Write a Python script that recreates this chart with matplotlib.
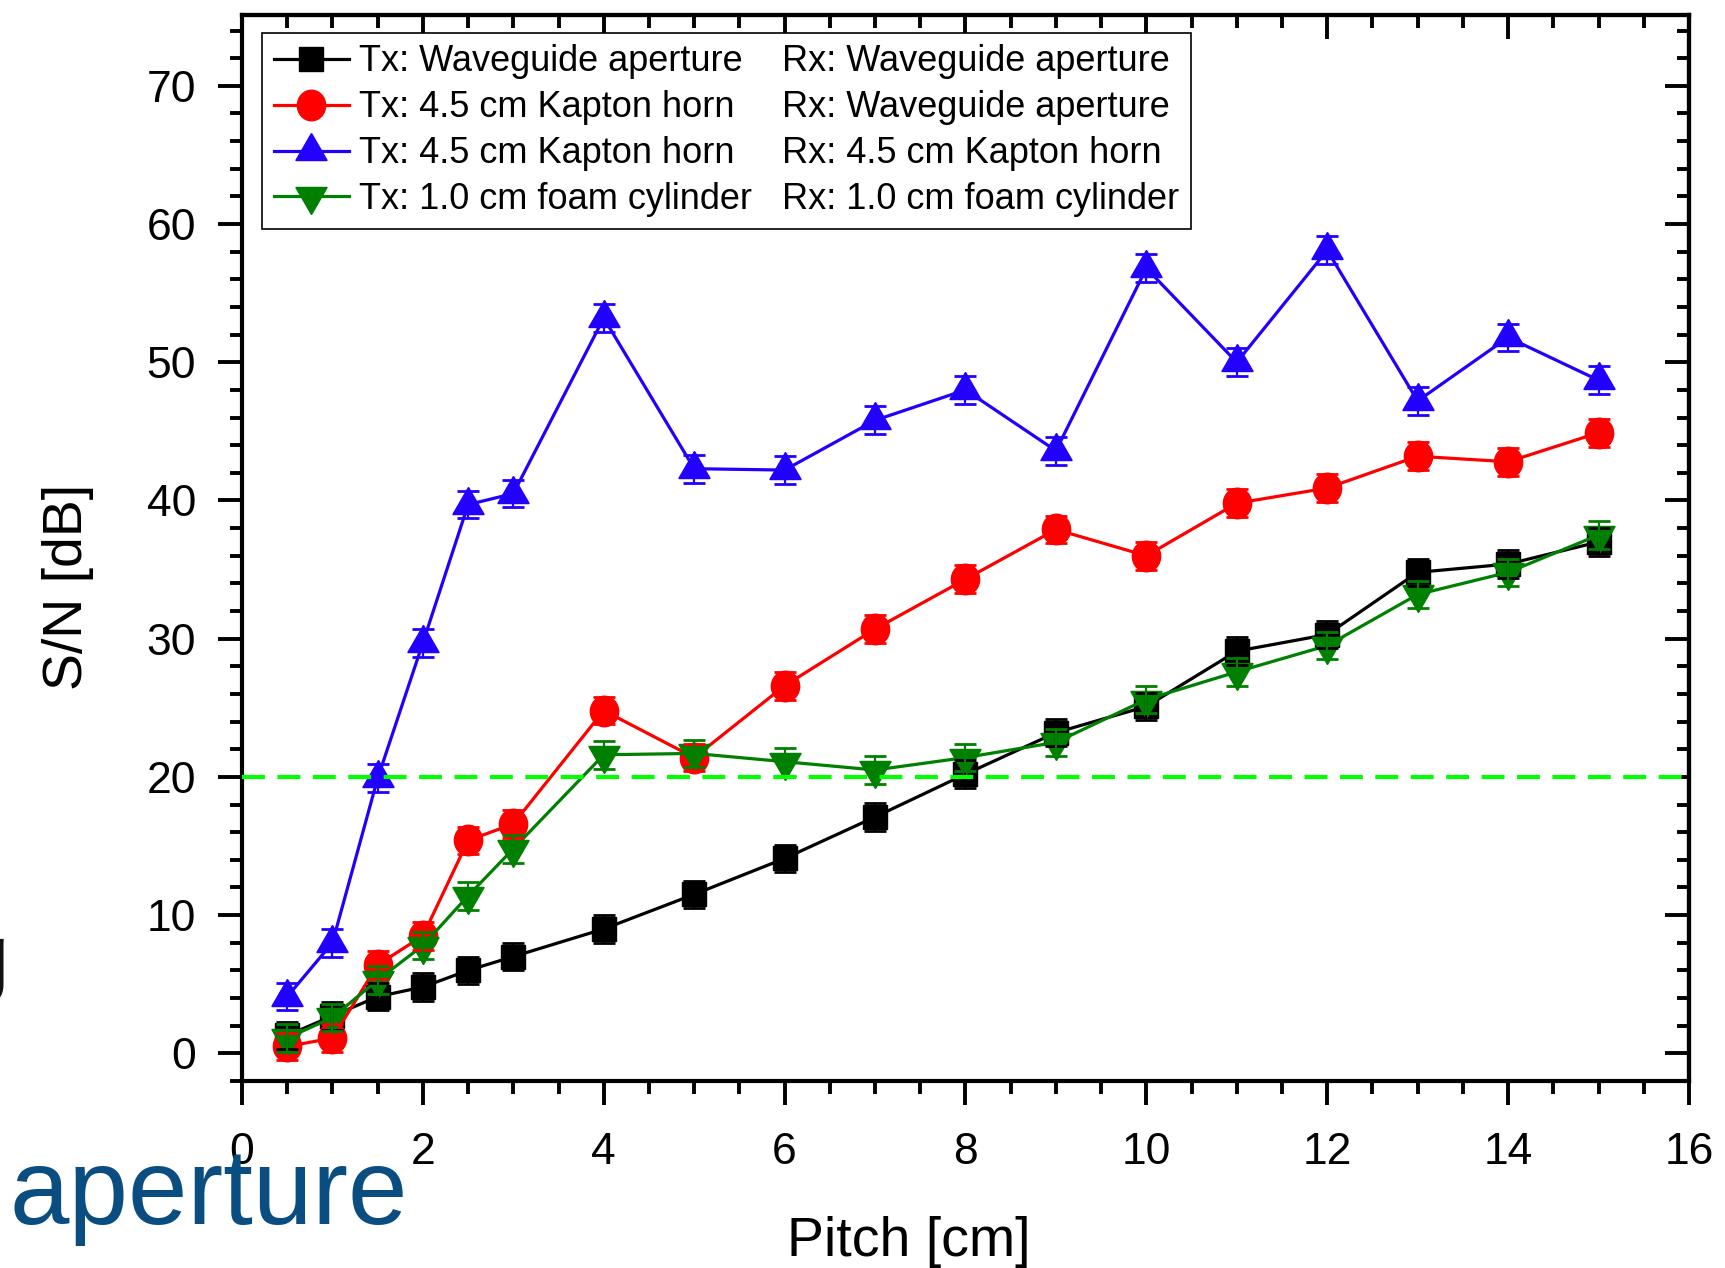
import matplotlib
matplotlib.use("Agg")
import matplotlib.pyplot as plt
from matplotlib.lines import Line2D
from matplotlib.path import Path
from matplotlib.ticker import MultipleLocator
import numpy as np

plt.rcParams['font.family'] = ['Liberation Sans', 'DejaVu Sans']

# ---- data -------------------------------------------------------------
pitch = [0.5, 1, 1.5, 2, 2.5, 3, 4, 5, 6, 7, 8, 9, 10, 11, 12, 13, 14, 15]

sn_wg_wg = [1.3, 2.7, 4.1, 4.8, 6.0, 7.0, 9.0, 11.5, 14.1, 17.1, 20.2, 23.2,
            25.1, 29.1, 30.3, 34.8, 35.4, 37.0]
sn_horn_wg = [0.5, 1.1, 6.4, 8.5, 15.4, 16.6, 24.8, 21.4, 26.6, 30.7, 34.3,
              37.9, 36.0, 39.8, 40.9, 43.2, 42.8, 44.9]
sn_horn_horn = [4.1, 8.0, 19.9, 29.7, 39.7, 40.5, 53.2, 42.3, 42.2, 45.8,
                48.0, 43.6, 56.8, 50.0, 58.1, 47.2, 51.8, 48.7]
sn_foam_foam = [1.1, 2.6, 5.3, 7.8, 11.4, 14.8, 21.6, 21.7, 21.1, 20.5, 21.4,
                22.5, 25.6, 27.6, 29.5, 33.2, 34.8, 37.5]

err_wg_wg = [1.0] * 18
err_horn_wg = [1.0] * 18
err_horn_horn = [1.0] * 18
err_foam_foam = [1.0] * 18

tx_labels = ["Tx: Waveguide aperture", "Tx: 4.5 cm Kapton horn",
             "Tx: 4.5 cm Kapton horn", "Tx: 1.0 cm foam cylinder"]
rx_labels = ["Rx: Waveguide aperture", "Rx: Waveguide aperture",
             "Rx: 4.5 cm Kapton horn", "Rx: 1.0 cm foam cylinder"]

threshold_db = 20

x_ticks = [0, 2, 4, 6, 8, 10, 12, 14, 16]
y_ticks = [0, 10, 20, 30, 40, 50, 60, 70]

# ---- styling ----------------------------------------------------------
ellipse = Path(Path.unit_circle().vertices * np.array([1.0, 1.08]),
               Path.unit_circle().codes)
tri_up = (3, 0, 0)
tri_down = (3, 0, 180)

series = [
    (sn_wg_wg, err_wg_wg, '#000000', 's', 17),
    (sn_horn_wg, err_horn_wg, '#ff0000', ellipse, 22),
    (sn_horn_horn, err_horn_horn, '#2200ff', tri_up, 26),
    (sn_foam_foam, err_foam_foam, '#008000', tri_down, 26),
]

fig = plt.figure(figsize=(17.25, 12.68), dpi=100)
ax = fig.add_axes([0.1403, 0.1475, 0.8388, 0.8404])

handles = []
for i, (vals, errs, col, mk, ms) in enumerate(series):
    ln, = ax.plot(pitch, vals, color=col, lw=2.3, marker=mk, markersize=ms,
                  markerfacecolor=col, markeredgecolor=col, markeredgewidth=1,
                  zorder=3 + i * 0.1, label=tx_labels[i])
    handles.append(ln)

for i, (vals, errs, col, mk, ms) in enumerate(series):
    ax.errorbar(pitch, vals, yerr=errs, fmt='none', ecolor=col,
                elinewidth=1.6, capsize=8, capthick=2.0, zorder=4 + i * 0.1)

ax.axhline(threshold_db, color='#00ff00', lw=3, dashes=(5.5, 3.0), zorder=5)

ax.set_xlim(0, 16)
ax.set_ylim(-2, 75.1)
ax.set_xticks(x_ticks)
ax.set_yticks(y_ticks)
ax.xaxis.set_minor_locator(MultipleLocator(0.5))
ax.yaxis.set_minor_locator(MultipleLocator(2))
ax.tick_params(which='major', direction='out', length=17, width=2.8,
               labelsize=32, color='black')
ax.tick_params(axis='x', which='major', pad=19.5)
ax.tick_params(axis='y', which='major', pad=16)
ax.tick_params(which='minor', direction='out', length=9, width=2.8)
for s in ax.spines.values():
    s.set_linewidth(3)

# inward ticks on the top and right frame edges
top = ax.secondary_xaxis('top')
top.set_xticks(x_ticks)
top.xaxis.set_minor_locator(MultipleLocator(0.5))
top.tick_params(which='major', direction='in', length=17, width=2.8,
                labeltop=False)
top.tick_params(which='minor', direction='in', length=9, width=2.8)
top.spines['top'].set_linewidth(3)

right = ax.secondary_yaxis('right')
right.set_yticks(y_ticks)
right.yaxis.set_minor_locator(MultipleLocator(2))
right.tick_params(which='major', direction='in', length=17, width=2.8,
                  labelright=False)
right.tick_params(which='minor', direction='in', length=9, width=2.8)
right.spines['right'].set_linewidth(3)

ax.set_xlabel("Pitch [cm]", fontsize=40)
ax.set_ylabel("S/N [dB]", fontsize=40)
ax.xaxis.set_label_coords(0.4607, -0.127)
ax.yaxis.set_label_coords(-0.102, 0.4636)

# two-column legend: Tx entries with markers, Rx entries as plain text
blank = [Line2D([], [], color='none') for _ in rx_labels]
fs_px = 26 * 100 / 72
leg = ax.legend(handles + blank, tx_labels + rx_labels, ncol=2,
                loc='upper left', bbox_to_anchor=(0.0138, 0.9835),
                borderaxespad=0, fontsize=26, numpoints=1,
                handlelength=2.08, handletextpad=0.28,
                columnspacing=(35 - 94) / fs_px + 0.12, labelspacing=0.30,
                borderpad=0.32, fancybox=False, framealpha=1,
                edgecolor='black')
leg.get_frame().set_linewidth(1.2)
leg.set_zorder(10)

# fragments of surrounding slide text
fig.text(-0.0235, 0.2235, "g", fontsize=64, color='#111111',
         va='baseline', ha='left')
fig.text(0.0055, 0.0345, "aperture", fontsize=77, color='#0a4d80',
         va='baseline', ha='left', zorder=20)

fig.savefig("out.png", dpi=100)
